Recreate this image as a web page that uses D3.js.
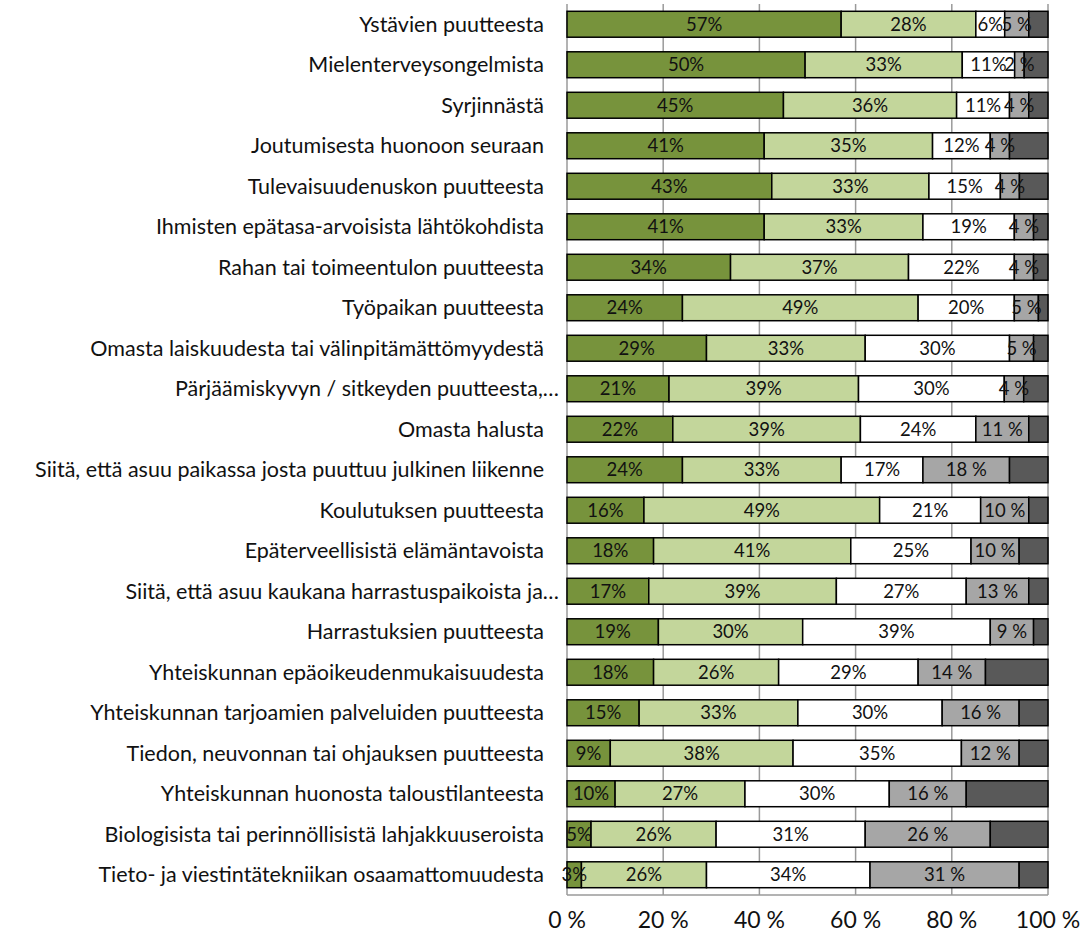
<!DOCTYPE html>
<html>
<head>
<meta charset="utf-8">
<script src="https://cdn.jsdelivr.net/npm/d3@7"></script>
<style>
html,body{margin:0;padding:0;background:#fff;}
svg{display:block;}
text{font-family:Lato,"Open Sans",sans-serif;}
</style>
</head>
<body>
<svg id="chart" width="1085" height="940"></svg>
<script>
const categories = [
  "Ystävien puutteesta",
  "Mielenterveysongelmista",
  "Syrjinnästä",
  "Joutumisesta huonoon seuraan",
  "Tulevaisuudenuskon puutteesta",
  "Ihmisten epätasa-arvoisista lähtökohdista",
  "Rahan tai toimeentulon puutteesta",
  "Työpaikan puutteesta",
  "Omasta laiskuudesta tai välinpitämättömyydestä",
  "Pärjäämiskyvyn / sitkeyden puutteesta,…",
  "Omasta halusta",
  "Siitä, että asuu paikassa josta puuttuu julkinen liikenne",
  "Koulutuksen puutteesta",
  "Epäterveellisistä elämäntavoista",
  "Siitä, että asuu kaukana harrastuspaikoista ja…",
  "Harrastuksien puutteesta",
  "Yhteiskunnan epäoikeudenmukaisuudesta",
  "Yhteiskunnan tarjoamien palveluiden puutteesta",
  "Tiedon, neuvonnan tai ohjauksen puutteesta",
  "Yhteiskunnan huonosta taloustilanteesta",
  "Biologisista tai perinnöllisistä lahjakkuuseroista",
  "Tieto- ja viestintätekniikan osaamattomuudesta"
];
const s1 = [57,50,45,41,43,41,34,24,29,21,22,24,16,18,17,19,18,15,9,10,5,3];
const s2 = [28,33,36,35,33,33,37,49,33,39,39,33,49,41,39,30,26,33,38,27,26,26];
const s3 = [6,11,11,12,15,19,22,20,30,30,24,17,21,25,27,39,29,30,35,30,31,34];
const s4 = [5,2,4,4,4,4,4,5,5,4,11,18,10,10,13,9,14,16,12,16,26,31];
const s5 = [4,5,4,8,6,3,3,2,3,5,4,8,4,6,4,3,13,6,6,17,12,6];
const xTicks = [0,0.2,0.4,0.6,0.8,1];
const xTickLabels = ["0 %","20 %","40 %","60 %","80 %","100 %"];

const keys = ["s1","s2","s3","s4","s5"];
const colors = ["#77933C","#C3D69B","#FFFFFF","#A6A6A6","#595959"];
const labelFmt = [v=>v+"%", v=>v+"%", v=>v+"%", v=>v+" %", null];

const rows = categories.map((c,i)=>({cat:c, s1:s1[i], s2:s2[i], s3:s3[i], s4:s4[i], s5:s5[i]}));
const stacked = d3.stack().keys(keys).offset(d3.stackOffsetExpand)(rows);

const svg = d3.select("#chart");
const x = d3.scaleLinear().domain([0,1]).range([567,1048]);
const y = d3.scaleBand().domain(categories).range([4,895]).paddingInner(0.36).paddingOuter(0.18);

// gridlines
svg.append("g").selectAll("line").data(xTicks.slice(1)).join("line")
  .attr("x1",d=>x(d)).attr("x2",d=>x(d)).attr("y1",4).attr("y2",895)
  .attr("stroke","#9a9a9a").attr("stroke-width",1.5);
// axis lines
svg.append("line").attr("x1",x(0)).attr("x2",x(0)).attr("y1",4).attr("y2",895)
  .attr("stroke","#9a9a9a").attr("stroke-width",1.5);
svg.append("line").attr("x1",x(0)).attr("x2",x(1)).attr("y1",895).attr("y2",895)
  .attr("stroke","#9a9a9a").attr("stroke-width",1.5);

// bars
const groups = svg.append("g").selectAll("g").data(stacked).join("g")
  .attr("fill",(d,i)=>colors[i]);
groups.selectAll("rect").data(d=>d).join("rect")
  .attr("x",d=>x(d[0])).attr("width",d=>x(d[1])-x(d[0]))
  .attr("y",d=>y(d.data.cat)).attr("height",y.bandwidth())
  .attr("stroke","#000").attr("stroke-width",1.5);

// segment labels
stacked.forEach((layer,li)=>{
  if(!labelFmt[li]) return;
  svg.append("g").selectAll("text").data(layer).join("text")
    .attr("x",d=>(x(d[0])+x(d[1]))/2)
    .attr("y",d=>y(d.data.cat)+y.bandwidth()/2)
    .attr("dy","0.36em")
    .attr("text-anchor","middle")
    .attr("font-size",18.5)
    .attr("fill","#111")
    .text(d=>labelFmt[li](d.data[layer.key]));
});

// category labels
svg.append("g").selectAll("text").data(categories).join("text")
  .attr("x",d=>d.endsWith("…")?559:544)
  .attr("y",d=>y(d)+y.bandwidth()/2)
  .attr("dy","0.36em")
  .attr("text-anchor","end")
  .attr("font-size",21.5)
  .attr("fill","#111")
  .text(d=>d);

// x tick labels
svg.append("g").selectAll("text").data(xTicks).join("text")
  .attr("x",d=>x(d)).attr("y",920).attr("dy","0.36em")
  .attr("text-anchor","middle").attr("font-size",23).attr("fill","#111")
  .text((d,i)=>xTickLabels[i]);
</script>
</body>
</html>
